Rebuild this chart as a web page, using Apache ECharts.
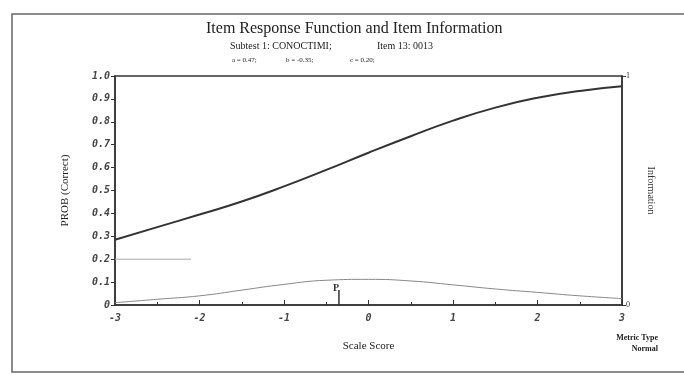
<!DOCTYPE html>
<html>
<head>
<meta charset="utf-8">
<script src="https://cdn.jsdelivr.net/npm/echarts@6/dist/echarts.min.js"></script>
<style>
html, body { margin: 0; padding: 0; background: #fff; }
#chartDom { width: 684px; height: 381px; }
</style>
</head>
<body>
<div id="chartDom"></div>
<script>
// values
var theta = [-3, -2.5, -2, -1.5, -1, -0.5, 0, 0.5, 1, 1.5, 2, 2.5, 3];
var probCorrect = [0.285, 0.34, 0.395, 0.452, 0.518, 0.59, 0.665, 0.737, 0.805, 0.862, 0.905, 0.935, 0.955];
var information = [0.01, 0.025, 0.04, 0.065, 0.09, 0.108, 0.112, 0.105, 0.088, 0.07, 0.055, 0.04, 0.028];
var cLineX = [-3, -2.1];
var cValue = 0.20;
var bValue = -0.35;
var bMarkTop = 0.065;

irfChart();

function irfChart() {
	var dom = document.getElementById("chartDom");
	var myChart = echarts.init(dom);

	var irfData = theta.map(function(t, i) { return [t, probCorrect[i]]; });
	var infoData = theta.map(function(t, i) { return [t, information[i]]; });
	var cData = cLineX.map(function(t) { return [t, cValue]; });
	var bData = [[bValue, 0], [bValue, bMarkTop]];

	var tickFont = {
		color: '#444',
		fontFamily: 'DejaVu Sans Mono',
		fontStyle: 'italic',
		fontWeight: 'bold',
		fontSize: 10
	};

	option = {
		animation: false,
		backgroundColor: '#fff',
		textStyle: { fontFamily: 'Liberation Serif', color: '#222' },
		graphic: [
			{
				type: 'rect',
				shape: { x: 12, y: 14, width: 700, height: 358 },
				style: { fill: 'none', stroke: '#666', lineWidth: 1.5 }
			},
			{
				type: 'text', left: 206, top: 21,
				style: { text: 'Item Response Function and Item Information', font: '16px "Liberation Serif"', fill: '#222' }
			},
			{
				type: 'text', left: 230, top: 41,
				style: { text: 'Subtest 1: CONOCTIMI;', font: '10px "Liberation Serif"', fill: '#222' }
			},
			{
				type: 'text', left: 377, top: 41,
				style: { text: 'Item 13: 0013', font: '10px "Liberation Serif"', fill: '#222' }
			},
			{
				type: 'text', left: 232, top: 57,
				style: { text: 'a = 0.47;', font: '7px "Liberation Serif"', fill: '#222' }
			},
			{
				type: 'text', left: 286, top: 57,
				style: { text: 'b = -0.35;', font: '7px "Liberation Serif"', fill: '#222' }
			},
			{
				type: 'text', left: 350, top: 57,
				style: { text: 'c = 0.20;', font: '7px "Liberation Serif"', fill: '#222' }
			},
			{
				type: 'text', right: 26, top: 334,
				style: { text: 'Metric Type', font: 'bold 8px "Liberation Serif"', fill: '#222' }
			},
			{
				type: 'text', right: 26, top: 345,
				style: { text: 'Normal', font: 'bold 8px "Liberation Serif"', fill: '#222' }
			}
		],
		grid: {
			left: 115,
			right: 62,
			top: 76,
			bottom: 76,
			show: true,
			borderColor: '#333',
			borderWidth: 1.5
		},
		xAxis: {
			type: 'value',
			min: -3,
			max: 3,
			interval: 1,
			name: 'Scale Score',
			nameLocation: 'middle',
			nameGap: 36,
			nameTextStyle: { fontSize: 11, color: '#222' },
			axisLine: { onZero: false, lineStyle: { color: '#333', width: 1.5 } },
			axisTick: { inside: true, length: 5, lineStyle: { color: '#333' } },
			minorTick: { show: true, splitNumber: 2, length: 3, lineStyle: { color: '#333' } },
			splitLine: { show: false },
			axisLabel: Object.assign({ margin: 8 }, tickFont)
		},
		yAxis: [
			{
				type: 'value',
				min: 0,
				max: 1,
				interval: 0.1,
				position: 'left',
				name: 'PROB (Correct)',
				nameLocation: 'middle',
				nameGap: 44,
				nameTextStyle: { fontSize: 11, color: '#222' },
				axisLine: { show: true, onZero: false, lineStyle: { color: '#333', width: 1.5 } },
				axisTick: { show: true, length: 4, lineStyle: { color: '#333' } },
				splitLine: { show: false },
				axisLabel: Object.assign({
					margin: 5,
					formatter: function(v) {
						return v === 0 ? '0' : v.toFixed(1);
					}
				}, tickFont)
			},
			{
				type: 'value',
				min: 0,
				max: 1,
				interval: 1,
				position: 'right',
				name: 'Information',
				nameLocation: 'middle',
				nameRotate: -90,
				nameGap: 24,
				nameTextStyle: { fontSize: 10, color: '#333' },
				axisLine: { show: true, onZero: false, lineStyle: { color: '#333', width: 1.5 } },
				axisTick: { show: true, length: 4, lineStyle: { color: '#333' } },
				splitLine: { show: false },
				axisLabel: { margin: 4, fontSize: 8, color: '#333', fontFamily: 'Liberation Serif' }
			}
		],
		series: [
			{
				name: 'IRF',
				type: 'line',
				smooth: true,
				symbol: 'none',
				data: irfData,
				lineStyle: { color: '#333', width: 2 }
			},
			{
				name: 'Information',
				type: 'line',
				yAxisIndex: 1,
				smooth: true,
				symbol: 'none',
				data: infoData,
				lineStyle: { color: '#888', width: 1 }
			},
			{
				name: 'c',
				type: 'line',
				symbol: 'none',
				data: cData,
				lineStyle: { color: '#aaa', width: 1 }
			},
			{
				name: 'b',
				type: 'line',
				symbol: 'none',
				data: bData,
				lineStyle: { color: '#333', width: 1.5 },
				endLabel: {
					show: true,
					formatter: 'P',
					fontSize: 10,
					fontWeight: 'bold',
					color: '#333',
					distance: -6,
					offset: [0, -2]
				}
			}
		]
	};
	myChart.setOption(option, true);
};
</script>
</body>
</html>
